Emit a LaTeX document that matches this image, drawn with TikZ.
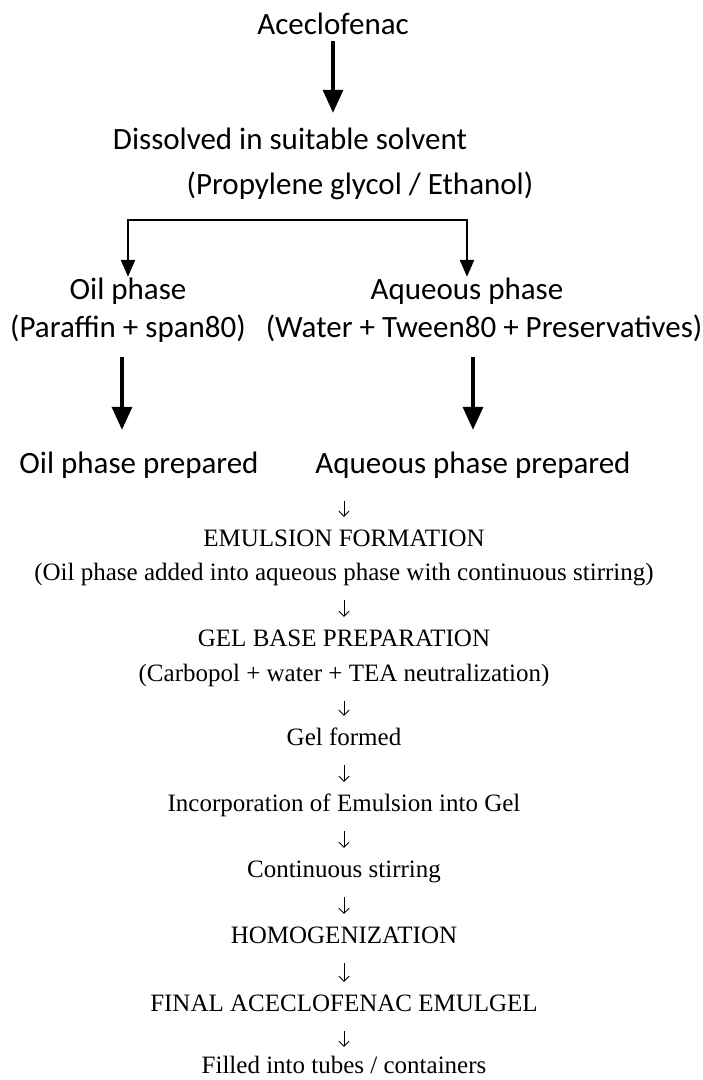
\documentclass[tikz,border=0pt]{standalone}
\usepackage{fontspec}
\setmainfont{Liberation Serif}
\newfontfamily\calib{Carlito}
\usepackage{tikz}
\usetikzlibrary{positioning,arrows.meta}

\begin{document}
\begin{tikzpicture}[x=1pt, y=-1pt,
  sans/.style={font=\calib\fontsize{31}{37}\selectfont, anchor=base, inner sep=0pt, text height=22pt, text depth=7pt},
  serif/.style={font=\fontsize{25}{30}\selectfont, anchor=base, inner sep=0pt, text height=17pt, text depth=5pt},
  bigarrow/.style={line width=3.5pt, -{Triangle[width=20pt,length=23pt]}},
  forkarrow/.style={line width=2.5pt, {Triangle[width=14pt,length=17pt]}-{Triangle[width=14pt,length=17pt]}},
  flow/.style={line width=0.9pt, -{Straight Barb[length=5pt,width=10pt]}, shorten <=15pt, shorten >=12pt}]
\useasboundingbox (0,0) rectangle (703,1080);
\node[sans] (acec) at (333,34) {Aceclofenac};
\node[sans] (diss) at (290,149) {Dissolved in suitable solvent};
\node[sans] (solv) at (360,194) {(Propylene glycol / Ethanol)};
\node[sans] (oilhead) at (128,299) {Oil phase};
\node[sans] (oilsub) at (128,337) {(Paraffin + span80)};
\node[sans] (aqhead) at (467,299) {Aqueous phase};
\node[sans] (aqsub) at (484,337) {(Water + Tween80 + Preservatives)};
\node[sans] (oilprep) at (139,473) {Oil phase prepared};
\node[sans] (aqprep) at (473,473) {Aqueous phase prepared};
\node[serif] (emul) at (344,546) {EMULSION FORMATION};
\node[serif] (emulsub) at (344,580) {(Oil phase added into aqueous phase with continuous stirring)};
\node[serif] (gel) at (344,646) {GEL BASE PREPARATION};
\node[serif] (gelsub) at (344,681) {(Carbopol + water + TEA neutralization)};
\node[serif] (formed) at (344,745) {Gel formed};
\node[serif] (incorp) at (344,811) {Incorporation of Emulsion into Gel};
\node[serif] (stir) at (344,877) {Continuous stirring};
\node[serif] (homog) at (344,943) {HOMOGENIZATION};
\node[serif] (final) at (344,1011) {FINAL ACECLOFENAC EMULGEL};
\node[serif] (fill) at (344,1073) {Filled into tubes / containers};
\coordinate (split) at (298,220);
\draw[bigarrow, shorten >=14pt] (acec.south) -- (acec.south |- diss.north);
\draw[forkarrow] (oilhead.north) |- (split) -| (aqhead.north);
\draw[bigarrow, shorten <=13pt, shorten >=21pt] ([xshift=-6pt]oilsub.south) -- ([xshift=-6pt]oilsub.south |- oilprep.north);
\draw[bigarrow, shorten <=13pt, shorten >=21pt] (aqsub.south -| aqprep.north) -- (aqprep.north);
\draw[flow, shorten <=21pt] (aqprep.south -| emul.north) -- (emul.north);
\foreach \a/\b in {emulsub/gel, gelsub/formed, formed/incorp, incorp/stir, stir/homog, homog/final}
  \draw[flow] (\a.south) -- (\b.north);
\draw[flow, shorten >=9pt] (final.south) -- (fill.north);
\end{tikzpicture}
\end{document}
